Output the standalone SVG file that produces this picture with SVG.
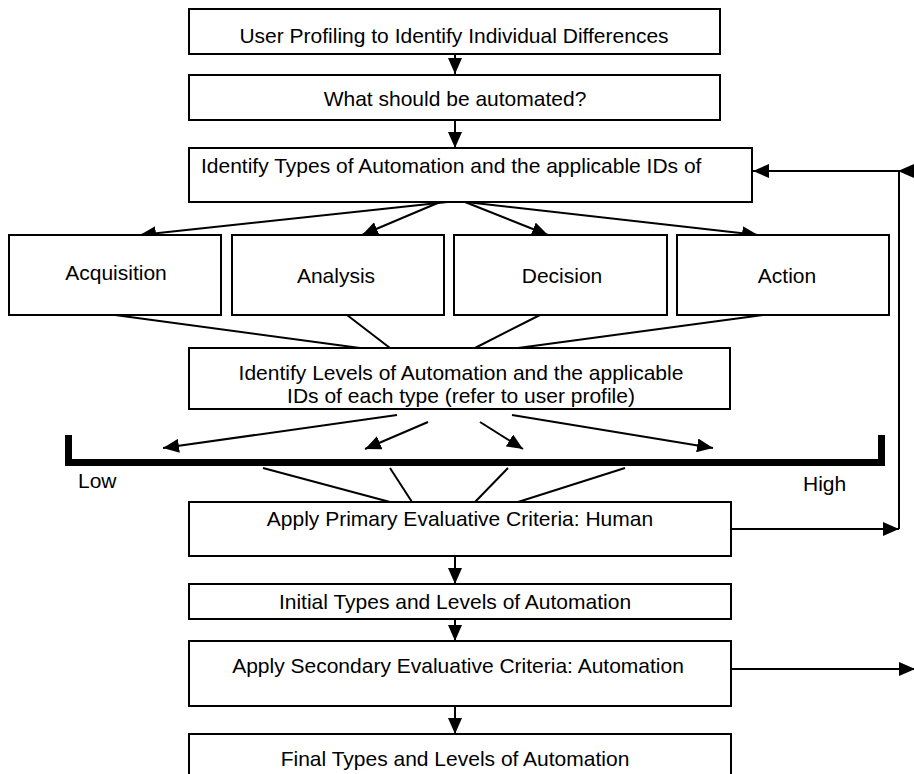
<svg xmlns="http://www.w3.org/2000/svg" width="914" height="774" viewBox="0 0 914 774">
<style>
.box{fill:#fff;stroke:#000;stroke-width:2}
.t{font-family:"Liberation Sans",Arial,sans-serif;font-size:21px;fill:#000}
.c{text-anchor:middle}
.ln{fill:none;stroke:#000;stroke-width:2}
.bar{fill:none;stroke:#000;stroke-width:7}
</style>
<defs>
<marker id="ah" markerUnits="userSpaceOnUse" markerWidth="16" markerHeight="14" refX="16" refY="7" orient="auto">
<path d="M0,0 L16,7 L0,14 z" fill="#000"/>
</marker>
</defs>
<rect width="914" height="774" fill="#fff"/>

<g id="connectors">
<line class="ln" x1="455" y1="54" x2="455" y2="74" marker-end="url(#ah)"/>
<line class="ln" x1="455" y1="120" x2="455" y2="148" marker-end="url(#ah)"/>
<line class="ln" x1="457" y1="201" x2="140" y2="235" marker-end="url(#ah)"/>
<line class="ln" x1="440" y1="202" x2="362" y2="235" marker-end="url(#ah)"/>
<line class="ln" x1="465" y1="202" x2="548" y2="235" marker-end="url(#ah)"/>
<line class="ln" x1="457" y1="201" x2="758" y2="235" marker-end="url(#ah)"/>
<line class="ln" x1="115" y1="315" x2="360" y2="348"/>
<line class="ln" x1="347" y1="315" x2="390" y2="348"/>
<line class="ln" x1="540" y1="315" x2="475" y2="348"/>
<line class="ln" x1="763" y1="315" x2="518" y2="348"/>
<line class="ln" x1="397" y1="415" x2="163" y2="448" marker-end="url(#ah)"/>
<line class="ln" x1="428" y1="422" x2="365" y2="449" marker-end="url(#ah)"/>
<line class="ln" x1="480" y1="422" x2="523" y2="449" marker-end="url(#ah)"/>
<line class="ln" x1="512" y1="415" x2="713" y2="448" marker-end="url(#ah)"/>
<line class="ln" x1="263" y1="468" x2="390" y2="502"/>
<line class="ln" x1="390" y1="468" x2="412" y2="502"/>
<line class="ln" x1="508" y1="468" x2="475" y2="502"/>
<line class="ln" x1="625" y1="468" x2="518" y2="502"/>
<path class="ln" d="M731,529 H899" marker-end="url(#ah)"/>
<path class="ln" d="M899,529 V171 H753" marker-end="url(#ah)"/>
<path class="ln" d="M916,171 H898" marker-end="url(#ah)"/>
<line class="ln" x1="455" y1="556" x2="455" y2="584" marker-end="url(#ah)"/>
<line class="ln" x1="455" y1="619" x2="455" y2="641" marker-end="url(#ah)"/>
<path class="ln" d="M731,669 H915" marker-end="url(#ah)"/>
<line class="ln" x1="455" y1="706" x2="455" y2="734" marker-end="url(#ah)"/>
</g>

<g id="scale">
<path class="bar" d="M68.5,435 V462.5 H881.5 V435"/>
<text class="t" x="78" y="488">Low</text>
<text class="t" x="803" y="491">High</text>
</g>

<g id="n1"><rect class="box" x="189" y="9" width="531" height="45"/><text class="t c" x="454" y="43">User Profiling to Identify Individual Differences</text></g>
<g id="n2"><rect class="box" x="189" y="75" width="531" height="45"/><text class="t c" x="455" y="106">What should be automated?</text></g>
<g id="n3"><rect class="box" x="189" y="148" width="563" height="54"/><text class="t" x="201" y="173">Identify Types of Automation and the applicable IDs of</text></g>
<g id="acq"><rect class="box" x="9" y="235" width="212" height="80"/><text class="t c" x="116" y="280">Acquisition</text></g>
<g id="ana"><rect class="box" x="232" y="235" width="212" height="80"/><text class="t c" x="336" y="283">Analysis</text></g>
<g id="dec"><rect class="box" x="454" y="235" width="213" height="80"/><text class="t c" x="562" y="283">Decision</text></g>
<g id="act"><rect class="box" x="677" y="235" width="212" height="80"/><text class="t c" x="787" y="283">Action</text></g>
<g id="levels"><rect class="box" x="189" y="348" width="541" height="61"/><text class="t c" x="461" y="380">Identify Levels of Automation and the applicable</text><text class="t c" x="461" y="403">IDs of each type (refer to user profile)</text></g>
<g id="human"><rect class="box" x="189" y="502" width="542" height="54"/><text class="t c" x="460" y="526">Apply Primary Evaluative Criteria: Human</text></g>
<g id="initial"><rect class="box" x="189" y="584" width="542" height="35"/><text class="t c" x="455" y="609">Initial Types and Levels of Automation</text></g>
<g id="secondary"><rect class="box" x="189" y="641" width="542" height="65"/><text class="t c" x="458" y="673">Apply Secondary Evaluative Criteria: Automation</text></g>
<g id="final"><rect class="box" x="189" y="734" width="542" height="60"/><text class="t c" x="455" y="766">Final Types and Levels of Automation</text></g>
</svg>
